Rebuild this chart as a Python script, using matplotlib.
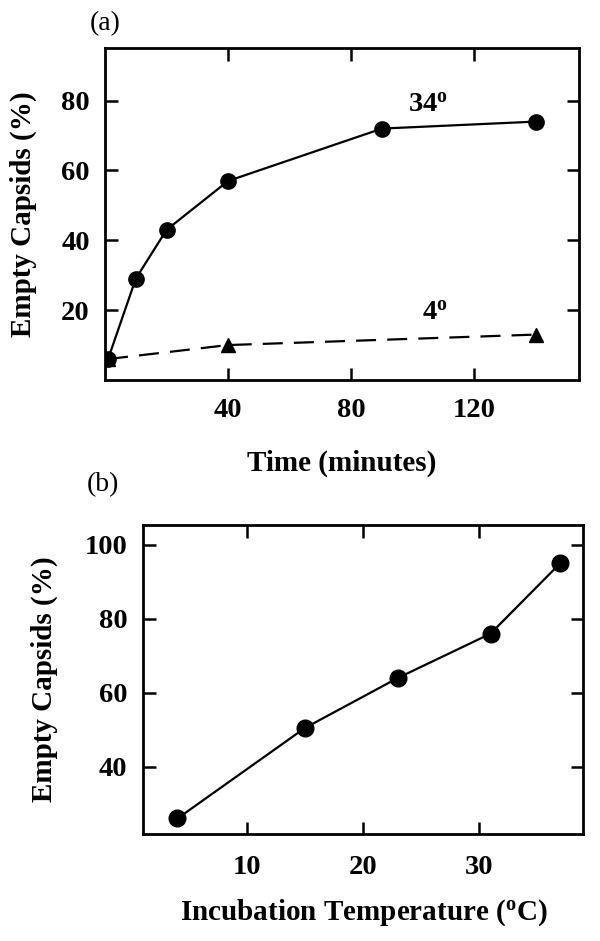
import matplotlib
matplotlib.use("Agg")
import matplotlib.pyplot as plt

plt.rcParams['font.family'] = ['Liberation Serif', 'DejaVu Serif']
plt.rcParams['font.weight'] = 'bold'
plt.rcParams['mathtext.fontset'] = 'custom'
plt.rcParams['mathtext.rm'] = 'Liberation Serif:bold'
plt.rcParams['mathtext.it'] = 'Liberation Serif:bold'

# panel (a): time course
time_34 = [1, 10, 20, 40, 90, 140]
empty_34 = [6, 29, 43, 57, 72, 74]
time_4 = [1, 40, 140]
empty_4 = [6, 10, 13]

# panel (b): temperature dependence
temp = [4, 15, 23, 31, 37]
empty_temp = [26, 50.5, 64, 76, 95]

fig = plt.figure(figsize=(6, 9.41), dpi=100)

def style(ax):
    for s in ax.spines.values():
        s.set_linewidth(2)
    ax.tick_params(direction='in', length=9, width=1.8, top=True, right=True,
                   labelsize=20.5)
    for lab in ax.get_xticklabels() + ax.get_yticklabels():
        lab.set_fontweight('bold')

# ---- (a)
ax1 = fig.add_axes([0.175, 0.5962, 0.79, 0.3525])
ax1.plot(time_34, empty_34, 'k-', lw=1.6, marker='o', ms=11)
ax1.plot(time_4, empty_4, 'k--', lw=1.6, marker='^', ms=10, dashes=(9, 5))
ax1.set_xlim(0, 154)
ax1.set_ylim(0, 95)
ax1.set_xticks([40, 80, 120])
ax1.set_yticks([20, 40, 60, 80])
style(ax1)
ax1.tick_params(axis='x', pad=13)
ax1.tick_params(axis='y', pad=11)
ax1.text(105, 78.5, r'34$^{\rm o}$', fontsize=20.5, ha='center', va='center')
ax1.text(107, 19, r'4$^{\rm o}$', fontsize=20.5, ha='center', va='center')
ax1.set_xlabel('Time (minutes)', fontsize=21, fontweight='bold')
ax1.xaxis.set_label_coords(0.5, -0.25)
ax1.xaxis.label.set_va('center')
ax1.set_ylabel('Empty Capsids (%)', fontsize=21, fontweight='bold')
ax1.yaxis.set_label_coords(-0.172, 0.5)
ax1.yaxis.label.set_va('center')
fig.text(0.176, 0.9745, '(a)', fontsize=20, fontweight='normal',
         ha='center', va='center')

# ---- (b)
ax2 = fig.add_axes([0.2378, 0.1137, 0.7343, 0.3284])
ax2.plot(temp, empty_temp, 'k-', lw=1.6, marker='o', ms=12)
ax2.set_xlim(1, 39)
ax2.set_ylim(21.8, 105.4)
ax2.set_xticks([10, 20, 30])
ax2.set_yticks([40, 60, 80, 100])
style(ax2)
ax2.tick_params(axis='x', pad=15)
ax2.tick_params(axis='y', pad=11)
ax2.set_xlabel(r'Incubation Temperature ($^{\rm o}$C)', fontsize=21,
               fontweight='bold')
ax2.xaxis.set_label_coords(0.502, -0.255)
ax2.xaxis.label.set_va('center')
ax2.set_ylabel('Empty Capsids (%)', fontsize=21, fontweight='bold')
ax2.yaxis.set_label_coords(-0.223, 0.5)
ax2.yaxis.label.set_va('center')
fig.text(0.171, 0.4846, '(b)', fontsize=20, fontweight='normal',
         ha='center', va='center')

fig.savefig('out.png', dpi=100)
